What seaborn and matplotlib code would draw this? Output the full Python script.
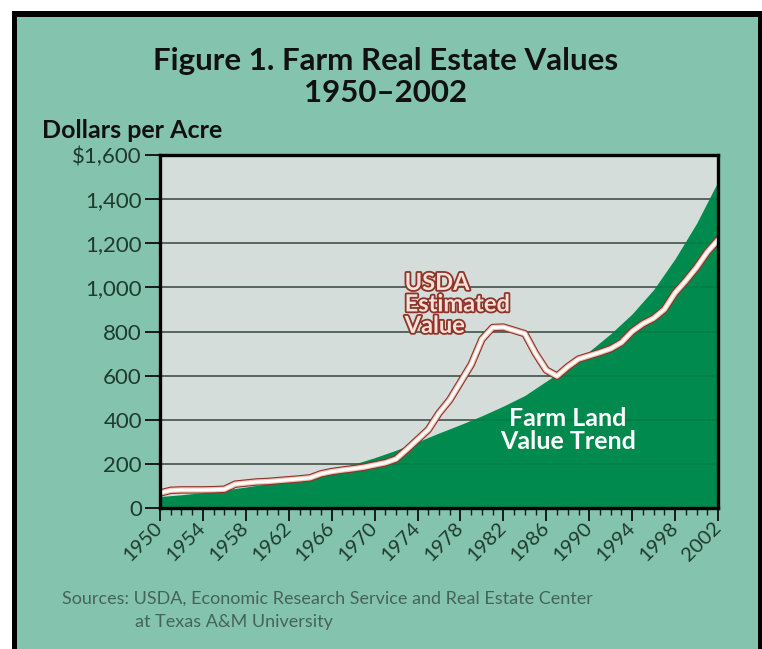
import matplotlib
matplotlib.use("Agg")
import matplotlib.pyplot as plt
import matplotlib.patheffects as pe
import matplotlib.transforms as mtransforms
from matplotlib.patches import Rectangle
from matplotlib.ticker import FixedLocator, MultipleLocator
import numpy as np
import pandas as pd
import seaborn as sns

# USDA estimated value, dollars per acre
usda_years = list(range(1950, 2003))
usda_values = [68, 80, 82, 82, 82, 83, 85, 108, 113, 118,
               120, 124, 128, 132, 137, 155, 165, 172, 178, 185,
               195, 205, 222, 265, 310, 355, 430, 490, 570, 650,
               765, 818, 820, 805, 790, 700, 625, 598, 640, 675,
               690, 705, 722, 750, 800, 835, 860, 900, 975, 1030,
               1090, 1160, 1215]

# farm land value trend (green area)
trend_years = list(range(1950, 2003, 2))
trend_values = [52, 60, 70, 82, 95, 110, 128, 148, 172, 198,
                228, 262, 300, 340, 378, 418, 462, 510, 575, 640,
                710, 790, 880, 990, 1130, 1290, 1480]

y_ticks = [0, 200, 400, 600, 800, 1000, 1200, 1400, 1600]
y_labels = ["0", "200", "400", "600", "800", "1,000", "1,200", "1,400", "$1,600"]
x_ticks = list(range(1950, 2003, 4))

teal = "#84c4ae"
green = "#008a4e"
plotbg = "#d4ddda"
txt = "#1f3a2f"
red = "#8e3428"

usda = pd.DataFrame({"year": usda_years, "value": usda_values})

sns.set_style("white")
plt.rcParams["font.family"] = ["Lato", "DejaVu Sans"]

fig = plt.figure(figsize=(7.62, 6.49), dpi=100)
fig.patch.set_facecolor("white")

# teal panel with black frame on top, left and right
W, H = 762, 649
fig.patches.append(Rectangle((12 / W, 0), 750 / W, 1 - 11 / H, transform=fig.transFigure,
                             facecolor="black", edgecolor="none", zorder=-3))
fig.patches.append(Rectangle((17 / W, 0), 741 / W, 1 - 17 / H, transform=fig.transFigure,
                             facecolor=teal, edgecolor="none", zorder=-2))

ax = fig.add_axes([160 / W, 1 - 508 / H, 558 / W, 353 / H])
ax.set_facecolor(plotbg)

ax.fill_between(trend_years, 0, trend_values, color=green, lw=0, zorder=2)
for v in y_ticks[1:-1]:
    ax.axhline(v, color="#46514c", lw=1.1, zorder=1.5)
    ax.axhline(v, color="#003a20", lw=1.1, alpha=0.18, zorder=3)

sns.lineplot(data=usda, x="year", y="value", ax=ax, color="white", lw=2.1, zorder=4,
             path_effects=[pe.Stroke(linewidth=5.4, foreground=red),
                           pe.Stroke(linewidth=3.8, foreground="#f0c4b8"),
                           pe.Normal()])

ax.set_xlim(1950, 2002)
ax.set_ylim(0, 1600)
ax.set_xlabel("")
ax.set_ylabel("")

ax.yaxis.set_major_locator(FixedLocator(y_ticks))
ax.set_yticklabels(y_labels)
ax.xaxis.set_major_locator(FixedLocator(x_ticks))
ax.xaxis.set_minor_locator(MultipleLocator(1))
ax.set_xticklabels([str(x) for x in x_ticks], rotation=45, ha="right",
                   va="center", rotation_mode="anchor")
shift = mtransforms.ScaledTranslation(8 / 100, -5 / 100, fig.dpi_scale_trans)
for lab in ax.get_xticklabels():
    lab.set_transform(lab.get_transform() + shift)

ax.tick_params(axis="y", which="major", length=11, width=1.4, color="#1a1a1a",
               labelsize=16, labelcolor=txt, pad=2, left=True)
ax.tick_params(axis="x", which="major", length=9.5, width=1.4, color="#1a1a1a",
               labelsize=14.5, labelcolor=txt, pad=3, bottom=True, direction="out")
ax.tick_params(axis="x", which="minor", length=5, width=1, color="#1a1a1a",
               bottom=True, direction="out")

for s in ax.spines.values():
    s.set_visible(True)
    s.set_color("black")
    s.set_linewidth(2.4)
    s.set_zorder(6)

ax.text(1972.8, 925, "USDA\nEstimated\nValue", fontsize=17, fontweight="bold",
        color="#f8e0d8", ha="left", va="center", linespacing=0.92, zorder=5,
        path_effects=[pe.Stroke(linewidth=2.6, foreground=red), pe.Normal()])
ax.text(1988.0, 355, "Farm Land\nValue Trend", fontsize=18, fontweight="bold",
        color="white", ha="center", va="center", linespacing=1.0, zorder=5)

fig.text(386 / W, 1 - 61 / H, "Figure 1. Farm Real Estate Values", fontsize=22.5,
         fontweight="bold", color="#111111", ha="center", va="center")
fig.text(386 / W, 1 - 93 / H, "1950–2002", fontsize=22.5, fontweight="bold",
         color="#111111", ha="center", va="center")
fig.text(42 / W, 1 - 130 / H, "Dollars per Acre", fontsize=18, fontweight="bold",
         color="#111111", ha="left", va="center")
fig.text(62 / W, 1 - 599 / H, "Sources: USDA, Economic Research Service and Real Estate Center",
         fontsize=13, color="#46635a", ha="left", va="center")
fig.text(135 / W, 1 - 622 / H, "at Texas A&M University", fontsize=13,
         color="#46635a", ha="left", va="center")

fig.savefig("out.png", dpi=100)
